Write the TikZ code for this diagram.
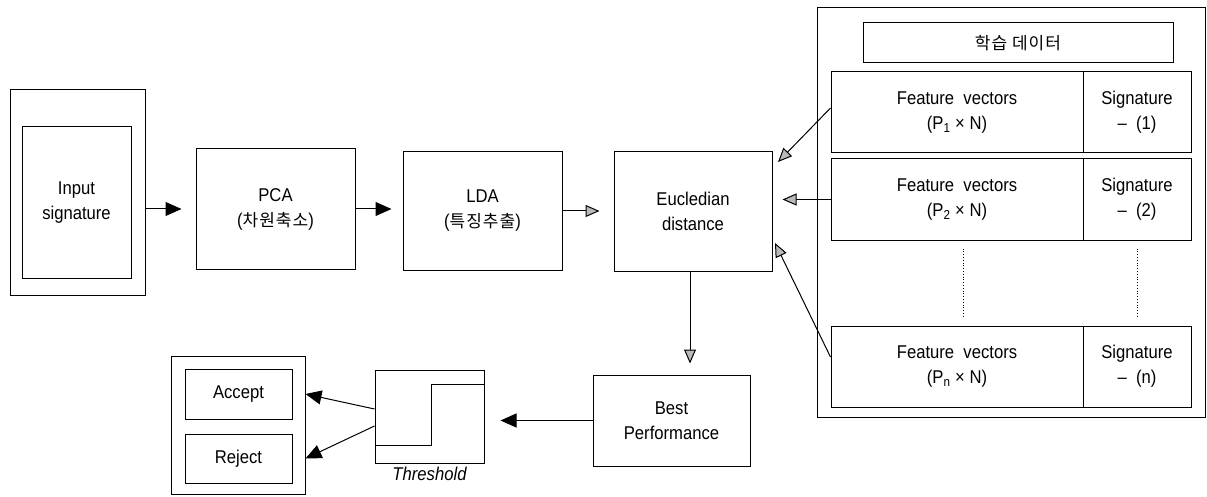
\documentclass[tikz,border=0pt]{standalone}
\usepackage{fontspec}
\setmainfont[FakeStretch=0.9]{Liberation Sans}
\newfontfamily\kr[LetterSpace=6]{Noto Sans CJK KR}
\usetikzlibrary{arrows.meta}

\begin{document}
\begin{tikzpicture}[x=1pt, y=-1pt,
  box/.style={draw, line width=1pt, inner sep=0pt, align=center, font=\fontsize{18.5}{25}\selectfont},
  blk/.style={-{Triangle[length=16pt,width=14pt]}, line width=1pt},
  gry/.style={-{Triangle[length=14pt,width=12pt,fill=gray!55]}, line width=1pt}]
  \useasboundingbox (0,0) rectangle (1207,497);
  % top row: input -> PCA -> LDA -> distance
  \node[box, minimum width=135pt, minimum height=205pt] (inout) at (77.5,192.5) {};
  \node[box, minimum width=109pt, minimum height=151pt] (input) at (76.5,202.5) {Input\\signature};
  \node[box, minimum width=159pt, minimum height=120pt] (pca) at (275.5,209) {PCA\\({\kr\fontsize{17}{25}\selectfont 차원축소})};
  \node[box, minimum width=159pt, minimum height=118pt] (lda) at (482.5,211) {LDA\\({\kr\fontsize{17}{25}\selectfont 특징추출})};
  \node[box, minimum width=158pt, minimum height=119pt] (eucl) at (693,211.5) {Eucledian\\distance};
  \draw[blk, shorten >=14pt] (inout.east |- pca.west) -- (pca.west);
  \draw[blk, shorten >=11pt] (pca.east) -- (pca.east -| lda.west);
  \draw[gry, shorten >=14pt] (lda.east) -- (lda.east -| eucl.west);
  % right: training data
  \node[box, minimum width=388pt, minimum height=409pt] (train) at (1011,212.5) {};
  \node[box, minimum width=310pt, minimum height=40pt] (title) at (1018,43) {\kr\fontsize{17}{25}\selectfont 학습 데이터};
  \foreach \y/\k in {112.5/1, 199.5/2, 366.5/n} {
    \node[box, minimum width=252pt, minimum height=81pt] (fv\k) at (957,\y) {Feature\ \ vectors\\(P\textsubscript{\k} × N)};
    \node[box, minimum width=108pt, minimum height=81pt] (sig\k) at (1137,\y) {Signature\\–\ \ (\k)};
  }
  \draw[dotted, line width=0.8pt, shorten <=8pt, shorten >=9pt] ([xshift=6pt]fv2.south) -- ([xshift=6pt]fvn.north);
  \draw[dotted, line width=0.8pt, shorten <=8pt, shorten >=9pt] (sig2.south) -- (sign.north);
  \coordinate (t1) at (778,162);
  \coordinate (tn) at (775,243);
  \draw[gry] ([yshift=4.5pt]fv1.west) -- (t1);
  \draw[gry, shorten >=10pt] (fv2.west) -- (fv2.west -| eucl.east);
  \draw[gry] ([yshift=9.5pt]fvn.west) -- (tn);
  % bottom: best -> threshold -> decision
  \node[box, minimum width=157pt, minimum height=91pt] (best) at (671.5,420.5) {Best\\Performance};
  \draw[gry, shorten >=11pt] ([xshift=-3pt]eucl.south) -- ([xshift=-3pt]eucl.south |- best.north);
  \node[box, minimum width=109pt, minimum height=93pt,
    label={[font=\itshape\fontsize{18.5}{20}\selectfont, inner sep=3pt]below:Threshold}] (thr) at (429.5,416.5) {};
  \draw[line width=1pt] ([yshift=18pt]thr.south west) -| ([xshift=1.5pt,yshift=-15pt]thr.north) -- ([yshift=-15pt]thr.north east);
  \draw[blk, shorten >=16pt] (best.west) -- (best.west -| thr.east);
  \node[box, minimum width=134pt, minimum height=138pt] (dec) at (238,425) {};
  \node[box, minimum width=107pt, minimum height=50pt] (acc) at (238.5,394) {Accept};
  \node[box, minimum width=107pt, minimum height=49pt] (rej) at (238.5,458.5) {Reject};
  \draw[blk] ([yshift=7.5pt]thr.west) -- (dec.east |- acc);
  \draw[blk] ([yshift=-9.5pt]thr.west) -- (dec.east |- rej);
\end{tikzpicture}
\end{document}
